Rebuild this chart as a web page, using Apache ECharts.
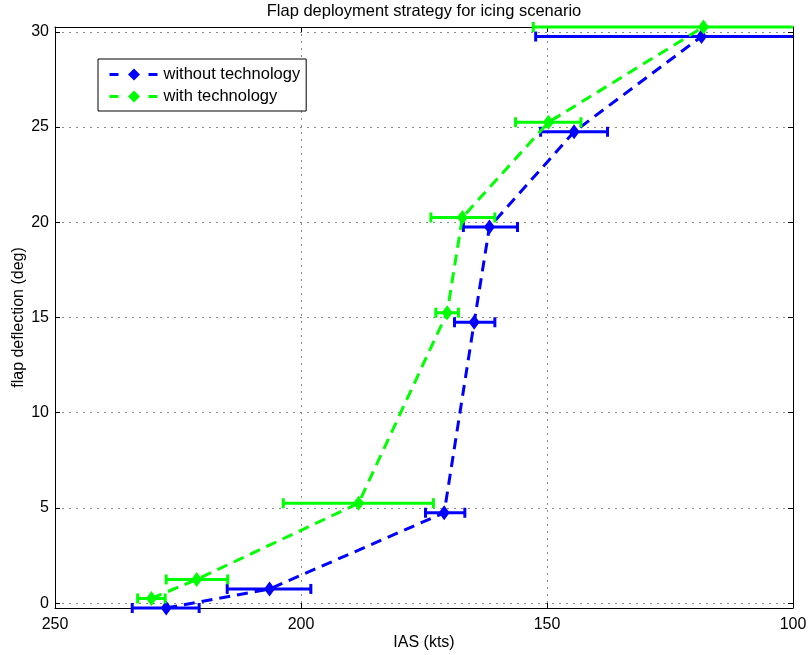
<!DOCTYPE html>
<html><head><meta charset="utf-8">
<script src="https://cdn.jsdelivr.net/npm/echarts@6/dist/echarts.min.js"></script>
<style>html,body{margin:0;padding:0;background:#fff}#c{width:808px;height:655px}</style>
</head><body><div id="c"></div>
<script>
// ---- data ----
const seriesNames = ['without technology', 'with technology'];
const flapWithout = [-0.25, 0.75, 4.75, 14.75, 19.75, 24.75, 29.75];
const iasWithout = [227.4, 206.4, 170.9, 164.8, 161.7, 144.5, 118.6];
const iasLoWithout = [234.3, 215.0, 174.7, 168.8, 167.0, 151.3, 152.3];
const iasHiWithout = [220.7, 198.0, 166.7, 160.6, 156.0, 137.7, 84.9];
const flapWith = [0.25, 1.25, 5.25, 15.25, 20.25, 25.25, 30.25];
const iasWith = [230.4, 221.2, 188.3, 170.3, 167.2, 149.7, 118.2];
const iasLoWith = [233.2, 227.4, 203.6, 172.6, 173.6, 156.4, 152.8];
const iasHiWith = [227.6, 214.9, 173.1, 168.0, 160.6, 143.1, 83.6];
const xRange = [100, 250];
const xStep = 50;
const yRange = [-0.25, 30.25];
const yStep = 5;

const FONT = 'Liberation Sans, Arial, Helvetica, sans-serif';
const BLUE = '#0000ff', GREEN = '#00ff00';

function pts(xs, ys) { return xs.map((x, i) => [x, ys[i]]); }
function errData(lo, hi, ys) { return lo.map((l, i) => [l, hi[i], ys[i]]); }

function errRender(color) {
  return function (params, api) {
    const a = api.value(0), b = api.value(1), y = api.value(2);
    const clamp = v => Math.max(xRange[0], Math.min(xRange[1], v));
    const ca = clamp(a), cb = clamp(b);
    const p1 = api.coord([ca, y]), p2 = api.coord([cb, y]);
    const st = { stroke: color, lineWidth: 3 };
    const ch = [{ type: 'line', shape: { x1: p1[0], y1: p1[1], x2: p2[0], y2: p2[1] }, style: st }];
    const h = 5;
    if (ca === a) ch.push({ type: 'line', shape: { x1: p1[0], y1: p1[1] - h, x2: p1[0], y2: p1[1] + h }, style: st });
    if (cb === b) ch.push({ type: 'line', shape: { x1: p2[0], y1: p2[1] - h, x2: p2[0], y2: p2[1] + h }, style: st });
    return { type: 'group', children: ch };
  };
}

const xBase = {
  type: 'value', min: xRange[0], max: xRange[1], interval: xStep, inverse: true,
  axisLine: { show: true, onZero: false, lineStyle: { color: '#000', width: 1 } },
  axisTick: { show: true, inside: true, length: 5, lineStyle: { color: '#000' } },
  splitLine: { show: false }, minorTick: { show: false }
};
const yBase = {
  type: 'value', min: yRange[0], max: yRange[1], splitNumber: 6, minInterval: yStep, maxInterval: yStep,
  axisLine: { show: true, onZero: false, lineStyle: { color: '#000', width: 1 } },
  axisTick: { show: true, inside: true, length: 5, lineStyle: { color: '#000' } },
  splitLine: { show: false }
};
const gridLine = { show: true, lineStyle: { color: '#8a8a8a', width: 1, type: [2, 5] } };

const chart = echarts.init(document.getElementById('c'), null, { renderer: 'canvas' });
chart.setOption({
  animation: false,
  backgroundColor: '#fff',
  textStyle: { fontFamily: FONT },
  title: {
    text: 'Flap deployment strategy for icing scenario',
    left: 424, top: 3, textAlign: 'center', padding: 0,
    textStyle: { fontSize: 16.5, fontWeight: 'normal', color: '#000', fontFamily: FONT }
  },
  grid: { left: 55, right: 15, top: 27, bottom: 47, containLabel: false, outerBoundsMode: 'none' },
  legend: {
    orient: 'vertical', left: 98, top: 59,
    data: seriesNames,
    itemWidth: 49, itemHeight: 15, itemGap: 5,
    padding: [7, 6, 6, 10],
    borderColor: '#000', borderWidth: 1, backgroundColor: '#fff',
    textStyle: { fontSize: 16.5, color: '#000', fontFamily: FONT },
    lineStyle: { type: [9, 30], width: 3 },
    selectedMode: false
  },
  xAxis: [
    Object.assign({}, xBase, {
      position: 'bottom', name: 'IAS (kts)', nameLocation: 'middle', nameGap: 27, nameMoveOverlap: false,
      nameTextStyle: { fontSize: 16, color: '#000', fontFamily: FONT },
      axisLabel: { fontSize: 16, color: '#000', margin: 9, fontFamily: FONT },
      splitLine: gridLine
    }),
    Object.assign({}, xBase, { position: 'top', axisLabel: { show: false } })
  ],
  yAxis: [
    Object.assign({}, yBase, {
      position: 'left', name: 'flap deflection (deg)', nameLocation: 'middle', nameGap: 28, nameMoveOverlap: false,
      nameTextStyle: { fontSize: 16, color: '#000', fontFamily: FONT },
      axisLabel: { fontSize: 16, color: '#000', margin: 6, fontFamily: FONT, showMinLabel: false, showMaxLabel: false,
        formatter: v => (Math.abs(v % yStep) < 1e-9 ? String(v) : '') },
      splitLine: gridLine
    }),
    Object.assign({}, yBase, { position: 'right', axisLabel: { show: false } })
  ],
  series: [
    { name: 'err-without', type: 'custom', renderItem: errRender(BLUE), data: errData(iasLoWithout, iasHiWithout, flapWithout),
      encode: { x: [0, 1], y: 2 }, z: 3, silent: true },
    { name: seriesNames[0], type: 'line', data: pts(iasWithout, flapWithout), clip: false,
      symbol: 'diamond', symbolSize: [11, 15], itemStyle: { color: BLUE },
      lineStyle: { color: BLUE, width: 3, type: [11, 7] }, z: 4 },
    { name: 'err-with', type: 'custom', renderItem: errRender(GREEN), data: errData(iasLoWith, iasHiWith, flapWith),
      encode: { x: [0, 1], y: 2 }, z: 5, silent: true },
    { name: seriesNames[1], type: 'line', data: pts(iasWith, flapWith), clip: false,
      symbol: 'diamond', symbolSize: [11, 15], itemStyle: { color: GREEN },
      lineStyle: { color: GREEN, width: 3, type: [11, 7] }, z: 6 }
  ]
});
</script></body></html>
